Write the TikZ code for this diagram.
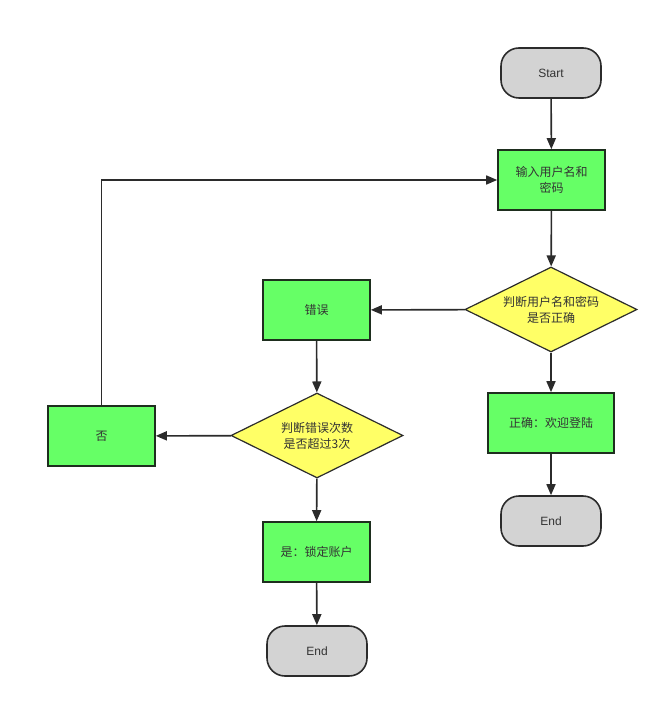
\documentclass[tikz,border=0pt]{standalone}
\usepackage{fontspec}
\setmainfont{Liberation Sans}
\newfontfamily\cjk{Noto Sans CJK SC}
\usetikzlibrary{shapes.geometric,arrows.meta}
\definecolor{boxgreen}{HTML}{66FF66}
\definecolor{diayellow}{HTML}{FFFF66}
\definecolor{termgray}{HTML}{D3D3D3}
\definecolor{edgedark}{HTML}{2B2B2B}
\definecolor{greenedge}{HTML}{1E2E1E}
\definecolor{txt}{HTML}{333333}
\begin{document}
\begin{tikzpicture}[x=1pt,y=-1pt,
  term/.style={draw=edgedark,line width=1.6pt,fill=termgray,rounded corners=18pt,minimum width=100pt,minimum height=50pt,inner sep=0pt,font=\fontsize{12}{14}\selectfont,text=txt},
  proc/.style={draw=greenedge,line width=1.6pt,fill=boxgreen,minimum width=107pt,minimum height=60pt,inner sep=0pt,align=center,font=\cjk\fontsize{12}{16}\selectfont,text=txt},
  deci/.style={draw=edgedark,line width=1.2pt,fill=diayellow,diamond,minimum width=172pt,minimum height=85pt,aspect=2.02,inner sep=0pt,align=center,font=\cjk\fontsize{12}{16}\selectfont,text=txt},
  conn/.style={draw=edgedark,line width=1.6pt,-{Triangle[length=11pt,width=9pt]}}]
\useasboundingbox (0,0) rectangle (669,708);
\node[term] (start) at (551,73) {Start};
\node[proc] (input) at (551.5,180) {输入用户名和\\密码};
\node[deci] (check) at (551,309.5) {判断用户名和密码\\是否正确};
\node[proc] (wrong) at (316.5,310) {错误};
\node[deci] (count) at (317,435.5) {判断错误次数\\是否超过3次};
\node[proc] (no) at (101.5,436) {否};
\node[proc] (lock) at (316.5,552) {是：锁定账户};
\node[term] (endL) at (317,651) {End};
\node[proc,minimum width=126pt] (ok) at (551,423) {正确：欢迎登陆};
\node[term] (endR) at (551,521) {End};
\draw[conn] (start) -- (input);
\draw[conn] (input) -- (check);
\draw[conn] (check) -- (wrong);
\draw[conn] (check) -- (ok);
\draw[conn] (ok) -- (endR);
\draw[conn] (wrong) -- (count);
\draw[conn] (count) -- (no);
\draw[conn] (count) -- (lock);
\draw[conn] (lock) -- (endL);
\draw[conn] (no.north) |- (input.west);
\end{tikzpicture}
\end{document}
